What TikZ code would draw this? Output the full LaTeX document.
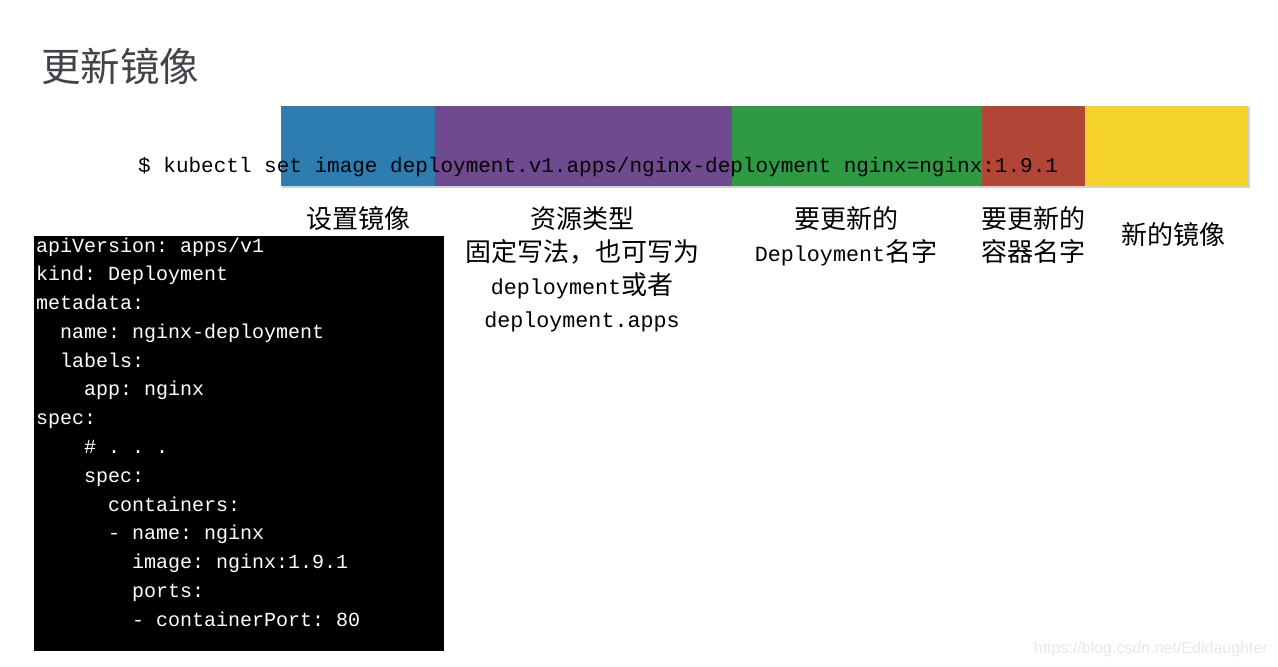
\documentclass[tikz,border=0pt]{standalone}
\usepackage{fontspec}
\newfontfamily\cjk{Noto Sans CJK SC}
\newfontfamily\monofam{Liberation Mono}
\newfontfamily\wmfont{Liberation Sans}
\definecolor{kblue}{HTML}{2E7DB0}
\definecolor{kpurple}{HTML}{6F4A8E}
\definecolor{kgreen}{HTML}{2E9A44}
\definecolor{kred}{HTML}{B14536}
\definecolor{kyellow}{HTML}{F5D22B}
\definecolor{ktitle}{HTML}{404448}
\newcommand\lat[1]{{\monofam\fontsize{21.7}{33}\selectfont #1}}
\frenchspacing
\tikzset{
  bar/.style={inner sep=0, outer sep=0, draw=none, anchor=north west, minimum height=80},
  lbl/.style={anchor=north, align=center, inner sep=0, font=\cjk\fontsize{26}{33}\selectfont},
  yaml/.style={anchor=base west, inner sep=0, text=white, font=\monofam\fontsize{20}{20}\selectfont},
}
\begin{document}
\begin{tikzpicture}[x=1pt,y=-1pt]
\useasboundingbox[fill=white] (0,0) rectangle (1278,667);
% title
\node[anchor=west, inner sep=0, text=ktitle, font=\cjk\fontsize{39.5}{39.5}\selectfont] (title) at (41,66) {更新镜像};
% colour bars
\fill[black!18] (282,107) rectangle (1249.5,188);
\node[bar, fill=kblue, minimum width=154] (b1) at (281,106) {};
\node[bar, fill=kpurple, minimum width=297] (b2) at (b1.north east) {};
\node[bar, fill=kgreen, minimum width=250] (b3) at (b2.north east) {};
\node[bar, fill=kred, minimum width=103] (b4) at (b3.north east) {};
\node[bar, fill=kyellow, minimum width=163] (b5) at (b4.north east) {};
% command
\node[anchor=base west, inner sep=0, font=\monofam\fontsize{21}{21}\selectfont] (cmd) at (138,172) {\$ kubectl set image deployment.v1.apps/nginx-deployment nginx=nginx:1.9.1};
% labels
\node[lbl] (l1) at (358,206) {设置镜像};
\node[lbl] (l2) at (582,206) {资源类型\\固定写法，也可写为\\\lat{deployment}或者\\\lat{deployment.apps}};
\node[lbl] (l3) at (846,206) {要更新的\\\lat{Deployment}名字};
\node[lbl] (l4) at (1033,206) {要更新的\\容器名字};
\node[lbl] (l5) at (1173,222) {新的镜像};
% yaml box
\node[fill=black, inner sep=0, anchor=north west, minimum width=410, minimum height=415] (box) at (34,236) {};
\node[yaml] (y1) at (36,252) {apiVersion: apps/v1};
\node[yaml] (y2) at (36,280.8) {kind: Deployment};
\node[yaml] (y3) at (36,309.5) {metadata:};
\node[yaml] (y4) at (60,338.3) {name: nginx-deployment};
\node[yaml] (y5) at (60,367.1) {labels:};
\node[yaml] (y6) at (84,395.9) {app: nginx};
\node[yaml] (y7) at (36,424.6) {spec:};
\node[yaml] (y8) at (84,453.4) {\# . . .};
\node[yaml] (y9) at (84,482.2) {spec:};
\node[yaml] (y10) at (108,511) {containers:};
\node[yaml] (y11) at (108,539.7) {- name: nginx};
\node[yaml] (y12) at (132,568.5) {image: nginx:1.9.1};
\node[yaml] (y13) at (132,597.3) {ports:};
\node[yaml] (y14) at (132,626) {- containerPort: 80};
% watermark
\node[anchor=east, inner sep=0, text=black!9, font=\wmfont\fontsize{16}{16}\selectfont] (wm) at (1268,649) {https://blog.csdn.net/Edidaughter};
\end{tikzpicture}
\end{document}
